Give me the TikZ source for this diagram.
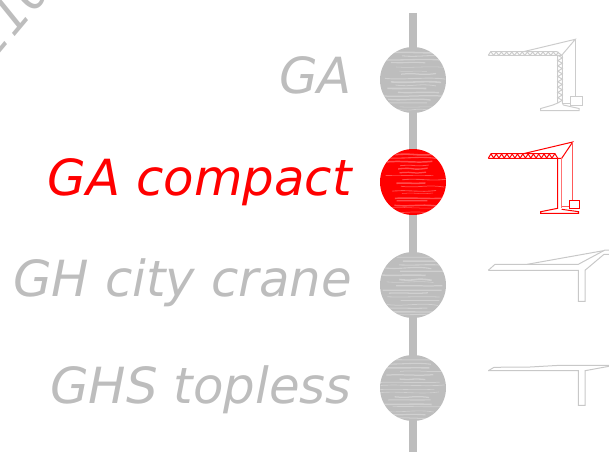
\documentclass[tikz,border=0pt]{standalone}
\usepackage{fontspec}
\setmainfont{DejaVu Sans}
\begin{document}
\begin{tikzpicture}[x=1pt,y=-1pt,
  lab/.style={anchor=base east,inner sep=0pt,font=\itshape\fontsize{49.8}{50}\selectfont,text=#1},
  dot/.style={circle,minimum size=66pt,inner sep=0pt,fill=#1},
  cr/.style={draw=#1,line width=1pt,line join=miter}]
\definecolor{gy}{HTML}{BDBDBD}
\definecolor{gl}{HTML}{CCCCCC}
\definecolor{gs}{HTML}{C8C8C8}
\useasboundingbox (0,0) rectangle (609,452);
\clip (0,0) rectangle (609,452);
% clipped fragment of a rotated label
\node[rotate=50,anchor=base west,inner sep=0pt,text=gy,font=\itshape\fontsize{49.8}{50}\selectfont] (frag) at (-7.4,62.7) {110};
% spine
\coordinate (top) at (413,13);
\coordinate (bot) at (413,452);
\draw[gy,line width=8pt] (top) -- (bot);
% nodes
\foreach \n/\y/\c/\t in {a/80/gy/GA,c/285/gy/GH city crane,d/388/gy/GHS topless,b/182/red/GA compact}{
  \node[dot=\c] (\n) at (413,\y) {};
  \begin{scope}
    \clip (413,\y) circle (33);
    \pgfmathsetseed{\y}
    \foreach \k in {1,...,17}{
      \pgfmathsetmacro{\yy}{\y-32+\k*3.6+rnd*1.6}
      \pgfmathsetmacro{\dd}{rnd*5-2.5}
      \pgfmathsetmacro{\ww}{0.5+rnd*1.1}
      \pgfmathsetmacro{\xa}{378+rnd*25}
      \pgfmathsetmacro{\xb}{425+rnd*25}
      \draw[white,opacity=0.3,line width=\ww pt] (\xa,\yy) .. controls (\xa+18,\yy+\dd) and (\xb-18,\yy-\dd) .. (\xb,\yy+0.4*\dd);
    }
  \end{scope}
}
\node[lab=gy] (la) at (352,93) {GA};
\node[lab=red] (lb) at (352,195) {GA compact};
\node[lab=gy] (lc) at (352,296) {GH city crane};
\node[lab=gy] (ld) at (352,403) {GHS topless};
% GA crane
\begin{scope}[cr=gl]
  \draw (488.3,55.3) -- (561.7,55.3) -- (575.3,39.3) -- (523.3,51.7);
  \draw (488.3,55.3) -- (490.7,51.7) -- (557,51.7) -- (561.7,55.3);
  \draw (491,52) \foreach \i in {0,...,12}{ -- ++(2.6,3.3) -- ++(2.6,-3.3)};
  \draw (557.7,55.3) -- (557.7,103) -- (553,105) -- (540.7,108.5) -- (540.7,110.7) -- (579,110.7) -- (579,108.5) -- (563.3,105) -- (562.3,103) -- (562.3,55.3);
  \draw (557.7,55.3) \foreach \i in {0,...,8}{ -- ++(4.6,2.6) -- ++(-4.6,2.7)};
  \draw (575.7,39.3) -- (575.7,96);
  \draw (570.7,96) rectangle (582.3,105.7);
  \draw (562.3,103.3) -- (570.7,103.3);
\end{scope}
% GA compact crane
\begin{scope}[cr=red]
  \draw (488.3,158.3) -- (561.7,158.3) -- (572.7,142) -- (523.3,153.7);
  \draw (488.3,158.3) -- (491,153.7) -- (555,153.7) -- (557.7,158.3);
  \draw (491,154) \foreach \i in {0,...,11}{ -- ++(2.65,4) -- ++(2.65,-4)};
  \draw (557.7,158.3) -- (557.7,208.3) -- (540.7,211.7) -- (540.7,213.3) -- (578.7,213.3) -- (578.7,211.7) -- (561.7,209.3);
  \draw[red!55] (561.7,158.3) -- (561.7,208);
  \draw[red!65] (572.7,142) -- (572.7,200.3);
  \draw (569,200.3) rectangle (579.3,208.3);
  \draw[red!65] (561.7,206) -- (569,206);
\end{scope}
% GH crane
\begin{scope}[cr=gs]
  \draw (488.3,270.3) -- (495,264.3) -- (578.3,264.3) -- (605,250) -- (609,250);
  \draw (527.3,264.3) -- (603.3,250.7);
  \draw (488.3,270.3) -- (578.3,270.3) -- (578.3,301.3) -- (585,301.3) -- (585,270.3) -- (604,254.3) -- (609,254.3);
\end{scope}
% GHS crane
\begin{scope}[cr=gs]
  \draw (488.3,370.7) -- (494,367.3) -- (530,367) -- (560,365.3) -- (609,365.3);
  \draw (488.3,370.7) -- (578.3,370.7) -- (578.3,405.3) -- (585,405.3) -- (585,370.7) -- (609,366.3);
\end{scope}
\end{tikzpicture}
\end{document}
